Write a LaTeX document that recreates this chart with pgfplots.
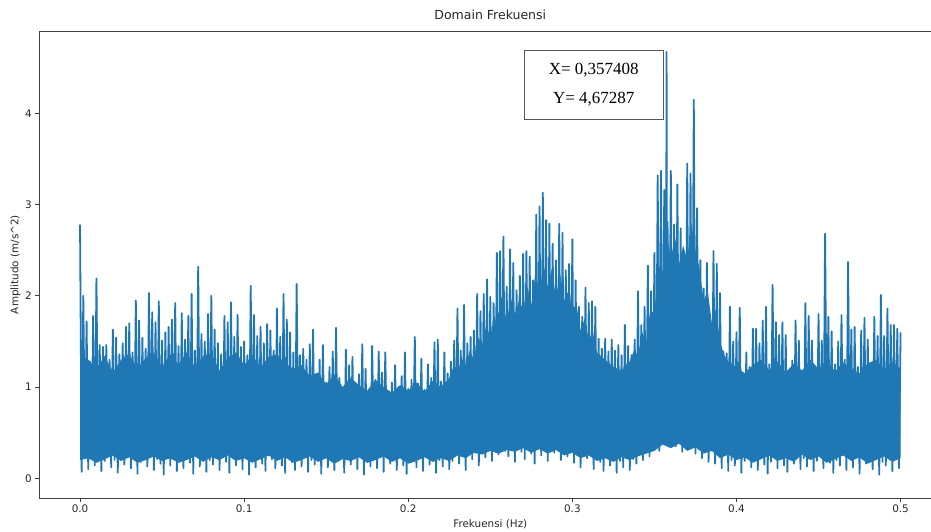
\documentclass[border=0pt]{standalone}
\usepackage{fontspec}
\setmainfont{DejaVu Sans}
\newfontfamily\boxfont{Liberation Serif}
\usepackage{pgfplots}
\pgfplotsset{compat=1.18}
\definecolor{mplblue}{HTML}{1F77B4}
\definecolor{spinecol}{gray}{0.25}
\begin{document}
\begin{tikzpicture}
\begin{axis}[
  name=ax,
  scale only axis,
  width=902.6pt, height=467pt,
  xmin=-0.025, xmax=0.525, ymin=-0.216, ymax=4.902,
  xtick={0,0.1,0.2,0.3,0.4,0.5},
  ytick={0,1,2,3,4},
  tick align=outside, tick pos=left,
  major tick length=3.6pt,
  tick style={line width=0.83pt, color=spinecol},
  axis line style={line width=0.83pt, color=spinecol},
  every tick label/.append style={font=\fontsize{10.4}{12}\selectfont, text=black!85},
  /pgf/number format/assume math mode=true,
  xticklabel style={/pgf/number format/.cd, fixed, fixed zerofill, precision=1},
  yticklabel style={/pgf/number format/.cd, fixed, precision=0},
  title={Domain Frekuensi},
  title style={font=\fontsize{12.5}{15}\selectfont, text=black!85, at={(axis description cs:0.5,1.0128)}, anchor=base, inner sep=0pt},
  xlabel={Frekuensi (Hz)},
  xlabel style={font=\fontsize{10.4}{12}\selectfont, text=black!85, at={(axis description cs:0.5,-0.0642)}, anchor=base, inner sep=0pt},
  ylabel={Amplitudo (m/s\textasciicircum 2)},
  ylabel style={font=\fontsize{10.4}{12}\selectfont, text=black!85, at={(axis description cs:-0.0229,0.5)}, anchor=base, inner sep=0pt},
]
% dense core of the spectrum: upper edge left to right, lower edge right to left
\addplot[fill=mplblue, draw=none] coordinates {
(0.000,1.15) (0.005,1.30) (0.010,1.20) (0.015,1.34) (0.020,1.16) (0.025,1.30) (0.030,1.36) (0.035,1.20) (0.040,1.32) (0.045,1.38)
(0.050,1.22) (0.055,1.36) (0.060,1.25) (0.065,1.38) (0.070,1.22) (0.075,1.34) (0.080,1.37) (0.085,1.18) (0.090,1.32) (0.095,1.38)
(0.100,1.24) (0.105,1.35) (0.110,1.22) (0.115,1.33) (0.120,1.36) (0.125,1.25) (0.130,1.20) (0.135,1.24) (0.140,1.12) (0.145,1.16)
(0.150,1.03) (0.155,1.14) (0.160,1.00) (0.165,1.10) (0.170,1.02) (0.175,0.96) (0.180,1.08) (0.185,1.00) (0.190,0.94) (0.195,1.02)
(0.200,0.96) (0.205,1.05) (0.210,0.95) (0.215,1.07) (0.220,1.00)
(0.2250,1.10) (0.2275,1.22) (0.2300,1.15) (0.2325,1.32) (0.2350,1.24) (0.2375,1.40) (0.2400,1.30) (0.2425,1.55) (0.2450,1.42) (0.2475,1.68)
(0.2500,1.55) (0.2525,1.78) (0.2550,1.62) (0.2575,1.95) (0.2600,1.72) (0.2625,1.98) (0.2650,1.80) (0.2675,1.95) (0.2700,1.85) (0.2725,2.10)
(0.2750,1.90) (0.2775,2.25) (0.2800,2.05) (0.2825,2.35) (0.2850,2.10) (0.2875,2.30) (0.2900,1.98) (0.2925,2.25) (0.2950,1.95) (0.2975,2.05)
(0.3000,1.85) (0.3025,1.90) (0.3050,1.62) (0.3075,1.75) (0.3100,1.52) (0.3125,1.60)
(0.315,1.38) (0.320,1.30) (0.325,1.22) (0.330,1.18) (0.335,1.28)
(0.3375,1.40) (0.3400,1.35) (0.3425,1.60) (0.3450,1.50) (0.3475,1.85) (0.3500,1.80) (0.3525,2.35) (0.3550,2.20) (0.3575,2.70) (0.3600,2.40)
(0.3625,2.65) (0.3650,2.35) (0.3675,2.55) (0.3700,2.40) (0.3725,2.80) (0.3750,2.50) (0.3775,2.30) (0.3800,1.95) (0.3825,2.05) (0.3850,1.70)
(0.3875,1.85) (0.3900,1.50) (0.3925,1.35)
(0.395,1.28) (0.400,1.22) (0.405,1.15) (0.410,1.24) (0.415,1.30) (0.420,1.18) (0.425,1.28) (0.430,1.16) (0.435,1.26) (0.440,1.18)
(0.445,1.30) (0.450,1.20) (0.455,1.30) (0.460,1.17) (0.465,1.27) (0.470,1.20) (0.475,1.15) (0.480,1.26) (0.485,1.30) (0.490,1.20)
(0.495,1.28) (0.500,1.20)
(0.500,0.22) (0.495,0.18) (0.490,0.24) (0.485,0.20) (0.480,0.16) (0.475,0.23) (0.470,0.19) (0.465,0.25) (0.460,0.21) (0.455,0.17)
(0.450,0.24) (0.445,0.20) (0.440,0.26) (0.435,0.18) (0.430,0.22) (0.425,0.19) (0.420,0.25) (0.415,0.21) (0.410,0.17) (0.405,0.23)
(0.400,0.20) (0.395,0.26) (0.390,0.22) (0.385,0.30) (0.380,0.27) (0.375,0.34) (0.370,0.30) (0.365,0.38) (0.360,0.33) (0.355,0.37)
(0.350,0.30) (0.345,0.27) (0.340,0.24) (0.335,0.20) (0.330,0.23) (0.325,0.18) (0.320,0.22) (0.315,0.19) (0.310,0.25) (0.305,0.22)
(0.300,0.28) (0.295,0.25) (0.290,0.31) (0.285,0.27) (0.280,0.32) (0.275,0.28) (0.270,0.33) (0.265,0.29) (0.260,0.31) (0.255,0.27)
(0.250,0.30) (0.245,0.26) (0.240,0.28) (0.235,0.22) (0.230,0.25) (0.225,0.19) (0.220,0.22) (0.215,0.18) (0.210,0.23) (0.205,0.19)
(0.200,0.16) (0.195,0.22) (0.190,0.18) (0.185,0.24) (0.180,0.20) (0.175,0.17) (0.170,0.23) (0.165,0.19) (0.160,0.21) (0.155,0.16)
(0.150,0.22) (0.145,0.18) (0.140,0.24) (0.135,0.20) (0.130,0.17) (0.125,0.23) (0.120,0.19) (0.115,0.25) (0.110,0.21) (0.105,0.17)
(0.100,0.22) (0.095,0.19) (0.090,0.25) (0.085,0.20) (0.080,0.23) (0.075,0.18) (0.070,0.24) (0.065,0.20) (0.060,0.17) (0.055,0.22)
(0.050,0.19) (0.045,0.24) (0.040,0.20) (0.035,0.17) (0.030,0.23) (0.025,0.19) (0.020,0.25) (0.015,0.21) (0.010,0.17) (0.005,0.22)
(0.000,0.20)
} -- cycle;
% amplitude spectrum, 0 -- 0.5 Hz
\addplot[color=mplblue, line width=1.8pt, line join=round, mark=none] coordinates {
(0.000,2.78) (0.001,0.07) (0.002,2.00) (0.003,0.22) (0.004,1.72) (0.005,0.10) (0.006,1.28) (0.007,0.28) (0.008,1.78) (0.009,0.14)
(0.010,2.19) (0.011,0.25) (0.012,1.46) (0.013,0.08) (0.014,1.44) (0.015,0.19) (0.016,1.46) (0.017,0.31) (0.018,1.30) (0.019,0.12)
(0.020,1.63) (0.021,0.20) (0.022,1.54) (0.023,0.06) (0.024,1.36) (0.025,0.27) (0.026,1.48) (0.027,0.15) (0.028,1.66) (0.029,0.33)
(0.030,1.70) (0.031,0.11) (0.032,1.38) (0.033,0.24) (0.034,1.95) (0.035,0.05) (0.036,1.73) (0.037,0.18) (0.038,1.54) (0.039,0.29)
(0.040,1.42) (0.041,0.13) (0.042,2.03) (0.043,0.36) (0.044,1.82) (0.045,0.09) (0.046,1.71) (0.047,0.21) (0.048,1.94) (0.049,0.16)
(0.050,1.51) (0.051,0.04) (0.052,1.60) (0.053,0.26) (0.054,1.66) (0.055,0.14) (0.056,1.74) (0.057,0.30) (0.058,1.92) (0.059,0.08)
(0.060,1.45) (0.061,0.22) (0.062,1.81) (0.063,0.11) (0.064,1.52) (0.065,0.43) (0.066,1.78) (0.067,0.17) (0.068,2.02) (0.069,0.05)
(0.070,1.40) (0.071,0.24) (0.072,2.32) (0.073,0.13) (0.074,1.58) (0.075,0.29) (0.076,1.50) (0.077,0.07) (0.078,1.80) (0.079,0.20)
(0.080,2.00) (0.081,0.15) (0.082,1.63) (0.083,0.32) (0.084,1.48) (0.085,0.09) (0.086,1.36) (0.087,0.26) (0.088,1.78) (0.089,0.18)
(0.090,1.71) (0.091,0.06) (0.092,1.93) (0.093,0.23) (0.094,1.55) (0.095,0.14) (0.096,1.79) (0.097,0.38) (0.098,1.44) (0.099,0.10)
(0.100,1.50) (0.101,0.27) (0.102,1.35) (0.103,0.04) (0.104,2.11) (0.105,0.19) (0.106,1.79) (0.107,0.12) (0.108,1.56) (0.109,0.30)
(0.110,1.66) (0.111,0.16) (0.112,1.48) (0.113,0.08) (0.114,1.69) (0.115,0.25) (0.116,1.62) (0.117,0.21) (0.118,1.40) (0.119,0.11)
(0.120,1.86) (0.121,0.33) (0.122,1.55) (0.123,0.14) (0.124,2.02) (0.125,0.06) (0.126,1.74) (0.127,0.22) (0.128,1.60) (0.129,0.18)
(0.130,1.38) (0.131,0.09) (0.132,2.13) (0.133,0.28) (0.134,1.35) (0.135,0.13) (0.136,1.42) (0.137,0.40) (0.138,1.30) (0.139,0.07)
(0.140,1.47) (0.141,0.20) (0.142,1.63) (0.143,0.15) (0.144,1.12) (0.145,0.31) (0.146,1.30) (0.147,0.05) (0.148,1.46) (0.149,0.24)
(0.150,1.05) (0.151,0.12) (0.152,1.22) (0.153,0.27) (0.154,1.39) (0.155,0.09) (0.156,1.65) (0.157,0.19) (0.158,1.10) (0.159,0.34)
(0.160,0.98) (0.161,0.06) (0.162,1.41) (0.163,0.22) (0.164,1.24) (0.165,0.15) (0.166,1.33) (0.167,0.28) (0.168,1.02) (0.169,0.10)
(0.170,1.14) (0.171,0.25) (0.172,1.47) (0.173,0.04) (0.174,1.20) (0.175,0.18) (0.176,0.96) (0.177,0.13) (0.178,1.45) (0.179,0.30)
(0.180,1.08) (0.181,0.11) (0.182,1.39) (0.183,0.23) (0.184,1.16) (0.185,0.07) (0.186,1.38) (0.187,0.35) (0.188,0.94) (0.189,0.16)
(0.190,1.05) (0.191,0.21) (0.192,1.24) (0.193,0.09) (0.194,1.00) (0.195,0.26) (0.196,1.12) (0.197,0.14) (0.198,1.38) (0.199,0.05)
(0.200,0.98) (0.201,0.18) (0.202,1.08) (0.203,0.29) (0.204,1.55) (0.205,0.12) (0.206,1.04) (0.207,0.22) (0.208,1.31) (0.209,0.08)
(0.210,0.97) (0.211,0.24) (0.212,1.25) (0.213,0.15) (0.214,1.10) (0.215,0.33) (0.216,1.49) (0.217,0.06) (0.218,1.52) (0.219,0.20)
(0.220,1.06) (0.221,0.13) (0.222,1.38) (0.223,0.27) (0.224,1.15) (0.225,0.10) (0.226,1.28) (0.227,0.19) (0.228,1.51) (0.229,0.31)
(0.230,1.86) (0.231,0.16) (0.232,1.40) (0.233,0.24) (0.234,1.90) (0.235,0.09) (0.236,1.48) (0.237,0.37) (0.238,1.55) (0.239,0.21)
(0.240,1.62) (0.241,0.28) (0.242,2.02) (0.243,0.14) (0.244,1.83) (0.245,0.52) (0.246,2.02) (0.247,0.23) (0.248,2.18) (0.249,0.33)
(0.250,1.99) (0.251,0.19) (0.252,1.92) (0.253,0.40) (0.254,2.47) (0.255,0.26) (0.256,2.49) (0.257,0.61) (0.258,2.65) (0.259,0.30)
(0.260,2.10) (0.261,0.24) (0.262,2.51) (0.263,0.45) (0.264,2.36) (0.265,0.18) (0.266,2.06) (0.267,0.35) (0.268,2.22) (0.269,0.29)
(0.270,2.46) (0.271,0.21) (0.272,2.49) (0.273,0.38) (0.274,2.43) (0.275,0.27) (0.276,2.17) (0.277,0.16) (0.278,2.89) (0.279,0.42)
(0.280,2.98) (0.281,0.25) (0.282,3.13) (0.283,0.33) (0.284,2.83) (0.285,0.19) (0.286,2.79) (0.287,0.47) (0.288,2.57) (0.289,0.28)
(0.290,2.39) (0.291,0.36) (0.292,2.79) (0.293,0.20) (0.294,2.69) (0.295,0.30) (0.296,2.28) (0.297,0.24) (0.298,2.35) (0.299,0.41)
(0.300,2.62) (0.301,0.17) (0.302,2.17) (0.303,0.29) (0.304,1.88) (0.305,0.12) (0.306,1.77) (0.307,0.34) (0.308,2.09) (0.309,0.22)
(0.310,1.92) (0.311,0.26) (0.312,1.94) (0.313,0.10) (0.314,1.88) (0.315,0.31) (0.316,1.53) (0.317,0.18) (0.318,1.42) (0.319,0.08)
(0.320,1.53) (0.321,0.23) (0.322,1.39) (0.323,0.14) (0.324,1.52) (0.325,0.27) (0.326,1.40) (0.327,0.06) (0.328,1.46) (0.329,0.19)
(0.330,1.35) (0.331,0.12) (0.332,1.68) (0.333,0.25) (0.334,1.45) (0.335,0.09) (0.336,1.35) (0.337,0.21) (0.338,1.52) (0.339,0.16)
(0.340,2.05) (0.341,0.28) (0.342,1.68) (0.343,0.20) (0.344,1.88) (0.345,0.35) (0.346,2.33) (0.347,0.24) (0.348,2.05) (0.349,0.31)
(0.350,2.47) (0.351,0.42) (0.352,3.32) (0.353,0.30) (0.354,3.37) (0.355,0.47) (0.356,3.16) (0.357,0.38) (0.357408,4.67287) (0.3577,0.55) (0.358,2.81) (0.359,0.70)
(0.360,3.37) (0.361,0.44) (0.362,2.78) (0.363,0.35) (0.364,3.22) (0.365,0.50) (0.366,2.74) (0.367,0.29) (0.368,2.43) (0.369,0.46)
(0.370,3.45) (0.371,0.33) (0.372,3.34) (0.373,0.41) (0.374,4.15) (0.375,0.27) (0.376,2.96) (0.377,0.37) (0.378,2.39) (0.379,0.22)
(0.380,2.08) (0.381,0.30) (0.382,2.36) (0.383,0.18) (0.384,1.73) (0.385,0.34) (0.386,2.49) (0.387,0.16) (0.388,2.35) (0.389,0.26)
(0.390,2.03) (0.391,0.11) (0.392,1.39) (0.393,0.29) (0.394,1.37) (0.395,0.08) (0.396,1.88) (0.397,0.20) (0.398,1.50) (0.399,0.14)
(0.400,1.60) (0.401,0.24) (0.402,1.87) (0.403,0.06) (0.404,1.15) (0.405,0.19) (0.406,1.38) (0.407,0.32) (0.408,1.22) (0.409,0.12)
(0.410,1.64) (0.411,0.21) (0.412,1.64) (0.413,0.09) (0.414,1.48) (0.415,0.27) (0.416,1.73) (0.417,0.15) (0.418,1.88) (0.419,0.05)
(0.420,1.25) (0.421,0.18) (0.422,2.12) (0.423,0.30) (0.424,1.71) (0.425,0.11) (0.426,1.57) (0.427,0.23) (0.428,1.71) (0.429,0.14)
(0.430,1.57) (0.431,0.07) (0.432,1.12) (0.433,0.26) (0.434,1.29) (0.435,0.16) (0.436,1.73) (0.437,0.36) (0.438,1.51) (0.439,0.10)
(0.440,1.18) (0.441,0.22) (0.442,1.92) (0.443,0.13) (0.444,1.78) (0.445,0.28) (0.446,1.51) (0.447,0.08) (0.448,1.20) (0.449,0.19)
(0.450,1.80) (0.451,0.25) (0.452,1.51) (0.453,0.11) (0.454,2.68) (0.455,0.33) (0.456,1.77) (0.457,0.17) (0.458,1.61) (0.459,0.06)
(0.460,1.25) (0.461,0.20) (0.462,1.50) (0.463,0.14) (0.464,1.79) (0.465,0.29) (0.466,1.30) (0.467,0.09) (0.468,2.37) (0.469,0.24)
(0.470,1.63) (0.471,0.12) (0.472,1.66) (0.473,0.31) (0.474,1.22) (0.475,0.05) (0.476,1.62) (0.477,0.21) (0.478,1.76) (0.479,0.16)
(0.480,1.52) (0.481,0.27) (0.482,1.15) (0.483,0.10) (0.484,1.77) (0.485,0.23) (0.486,1.56) (0.487,0.04) (0.488,2.01) (0.489,0.18)
(0.490,1.56) (0.491,0.14) (0.492,1.86) (0.493,0.26) (0.494,1.68) (0.495,0.08) (0.496,1.68) (0.497,0.21) (0.498,1.64) (0.499,0.11)
(0.500,1.60)
};
% value box for the highest peak
\node[draw=black!65, line width=0.9pt, fill=white, minimum width=139pt, minimum height=69pt,
      inner sep=0pt, align=center, text=black,
      font=\boxfont\fontsize{17}{29}\selectfont]
  at (axis cs:0.3130,4.316) {X= 0,357408\\Y= 4,67287};
\end{axis}
\pgfresetboundingbox
\path[use as bounding box] ([xshift=-39pt,yshift=-33pt]ax.south west) rectangle ([xshift=892pt,yshift=498pt]ax.south west);
\end{tikzpicture}
\end{document}
